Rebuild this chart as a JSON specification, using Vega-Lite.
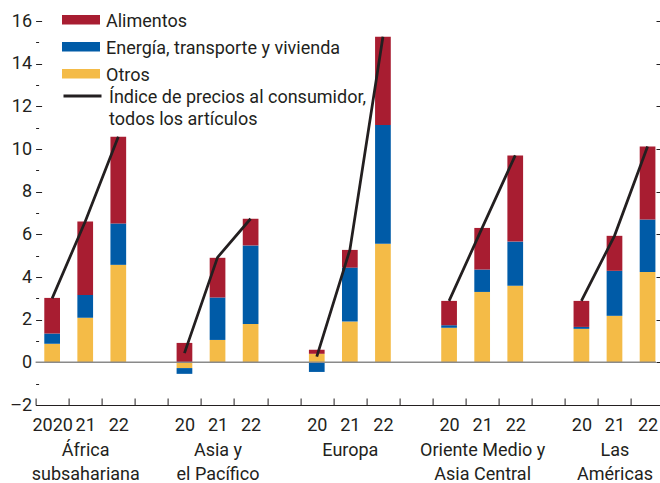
{
  "$schema": "https://vega.github.io/schema/vega-lite/v6.json",
  "width": 620.4,
  "height": 384,
  "autosize": {"type": "none"},
  "padding": {"left": 35.6, "top": 21, "right": 4, "bottom": 78},
  "background": "white",
  "config": {
    "font": "Roboto",
    "view": {"stroke": null},
    "axis": {"grid": false, "labelFont": "Roboto", "labelFontSize": 18, "labelColor": "#231f20", "tickColor": "#231f20", "domainColor": "#231f20"},
    "legend": {"labelFont": "Roboto"}
  },
  "datasets": {
    "barras": [
      {"grupo": "AF20", "serie": "Otros", "orden": 1, "valor": 0.87},
      {"grupo": "AF20", "serie": "Energía, transporte y vivienda", "orden": 2, "valor": 0.48},
      {"grupo": "AF20", "serie": "Alimentos", "orden": 3, "valor": 1.67},
      {"grupo": "AF21", "serie": "Otros", "orden": 1, "valor": 2.09},
      {"grupo": "AF21", "serie": "Energía, transporte y vivienda", "orden": 2, "valor": 1.07},
      {"grupo": "AF21", "serie": "Alimentos", "orden": 3, "valor": 3.44},
      {"grupo": "AF22", "serie": "Otros", "orden": 1, "valor": 4.57},
      {"grupo": "AF22", "serie": "Energía, transporte y vivienda", "orden": 2, "valor": 1.94},
      {"grupo": "AF22", "serie": "Alimentos", "orden": 3, "valor": 4.07},
      {"grupo": "AS20", "serie": "Otros", "orden": 1, "valor": -0.27},
      {"grupo": "AS20", "serie": "Energía, transporte y vivienda", "orden": 2, "valor": -0.27},
      {"grupo": "AS20", "serie": "Alimentos", "orden": 3, "valor": 0.91},
      {"grupo": "AS21", "serie": "Otros", "orden": 1, "valor": 1.05},
      {"grupo": "AS21", "serie": "Energía, transporte y vivienda", "orden": 2, "valor": 1.99},
      {"grupo": "AS21", "serie": "Alimentos", "orden": 3, "valor": 1.86},
      {"grupo": "AS22", "serie": "Otros", "orden": 1, "valor": 1.8},
      {"grupo": "AS22", "serie": "Energía, transporte y vivienda", "orden": 2, "valor": 3.68},
      {"grupo": "AS22", "serie": "Alimentos", "orden": 3, "valor": 1.25},
      {"grupo": "EU20", "serie": "Otros", "orden": 1, "valor": 0.4},
      {"grupo": "EU20", "serie": "Energía, transporte y vivienda", "orden": 2, "valor": -0.45},
      {"grupo": "EU20", "serie": "Alimentos", "orden": 3, "valor": 0.19},
      {"grupo": "EU21", "serie": "Otros", "orden": 1, "valor": 1.91},
      {"grupo": "EU21", "serie": "Energía, transporte y vivienda", "orden": 2, "valor": 2.53},
      {"grupo": "EU21", "serie": "Alimentos", "orden": 3, "valor": 0.83},
      {"grupo": "EU22", "serie": "Otros", "orden": 1, "valor": 5.56},
      {"grupo": "EU22", "serie": "Energía, transporte y vivienda", "orden": 2, "valor": 5.57},
      {"grupo": "EU22", "serie": "Alimentos", "orden": 3, "valor": 4.13},
      {"grupo": "ME20", "serie": "Otros", "orden": 1, "valor": 1.62},
      {"grupo": "ME20", "serie": "Energía, transporte y vivienda", "orden": 2, "valor": 0.12},
      {"grupo": "ME20", "serie": "Alimentos", "orden": 3, "valor": 1.14},
      {"grupo": "ME21", "serie": "Otros", "orden": 1, "valor": 3.3},
      {"grupo": "ME21", "serie": "Energía, transporte y vivienda", "orden": 2, "valor": 1.05},
      {"grupo": "ME21", "serie": "Alimentos", "orden": 3, "valor": 1.95},
      {"grupo": "ME22", "serie": "Otros", "orden": 1, "valor": 3.59},
      {"grupo": "ME22", "serie": "Energía, transporte y vivienda", "orden": 2, "valor": 2.07},
      {"grupo": "ME22", "serie": "Alimentos", "orden": 3, "valor": 4.04},
      {"grupo": "AM20", "serie": "Otros", "orden": 1, "valor": 1.57},
      {"grupo": "AM20", "serie": "Energía, transporte y vivienda", "orden": 2, "valor": 0.09},
      {"grupo": "AM20", "serie": "Alimentos", "orden": 3, "valor": 1.22},
      {"grupo": "AM21", "serie": "Otros", "orden": 1, "valor": 2.18},
      {"grupo": "AM21", "serie": "Energía, transporte y vivienda", "orden": 2, "valor": 2.11},
      {"grupo": "AM21", "serie": "Alimentos", "orden": 3, "valor": 1.64},
      {"grupo": "AM22", "serie": "Otros", "orden": 1, "valor": 4.24},
      {"grupo": "AM22", "serie": "Energía, transporte y vivienda", "orden": 2, "valor": 2.45},
      {"grupo": "AM22", "serie": "Alimentos", "orden": 3, "valor": 3.43}
    ],
    "ipc": [
      {"region": "África subsahariana", "grupo": "AF20", "ipc": 3.0},
      {"region": "África subsahariana", "grupo": "AF21", "ipc": 6.6},
      {"region": "África subsahariana", "grupo": "AF22", "ipc": 10.58},
      {"region": "Asia y el Pacífico", "grupo": "AS20", "ipc": 0.43},
      {"region": "Asia y el Pacífico", "grupo": "AS21", "ipc": 4.92},
      {"region": "Asia y el Pacífico", "grupo": "AS22", "ipc": 6.73},
      {"region": "Europa", "grupo": "EU20", "ipc": 0.27},
      {"region": "Europa", "grupo": "EU21", "ipc": 5.27},
      {"region": "Europa", "grupo": "EU22", "ipc": 15.26},
      {"region": "Oriente Medio y Asia Central", "grupo": "ME20", "ipc": 2.88},
      {"region": "Oriente Medio y Asia Central", "grupo": "ME21", "ipc": 6.3},
      {"region": "Oriente Medio y Asia Central", "grupo": "ME22", "ipc": 9.7},
      {"region": "Las Américas", "grupo": "AM20", "ipc": 2.88},
      {"region": "Las Américas", "grupo": "AM21", "ipc": 5.93},
      {"region": "Las Américas", "grupo": "AM22", "ipc": 10.12}
    ]
  },
  "layer": [
    {
      "data": {"name": "barras"},
      "mark": {"type": "bar", "width": {"band": 0.475}},
      "encoding": {
        "x": {
          "field": "grupo", "type": "nominal",
          "scale": {"domain": ["AF20","AF21","AF22","g1","AS20","AS21","AS22","g2","EU20","EU21","EU22","g3","ME20","ME21","ME22","g4","AM20","AM21","AM22"], "paddingInner": 0, "paddingOuter": 0, "range": [0, 628.5]},
          "axis": {
            "title": null, "labelAngle": 0, "tickBand": "extent", "tickSize": -7, "labelPadding": 18.5,
            "labelBaseline": "top", "labelLineHeight": 24.5,
            "labelExpr": "{'AF20':'2020','AF21':['21','África','subsahariana'],'AF22':'22','AS20':'20','AS21':['21','Asia y','el Pacífico'],'AS22':'22','EU20':'20','EU21':['21','Europa'],'EU22':'22','ME20':'20','ME21':['21','Oriente Medio y','Asia Central'],'ME22':'22','AM20':'20','AM21':['21','Las','Américas'],'AM22':'22'}[datum.value] || ''"
          }
        },
        "y": {
          "field": "valor", "type": "quantitative",
          "scale": {"domain": [-2, 16], "nice": false, "zero": false},
          "axis": {
            "title": null, "domain": false, "values": [-2,-1,0,1,2,3,4,5,6,7,8,9,10,11,12,13,14,15,16],
            "labelExpr": "datum.value % 2 === 0 ? (datum.value < 0 ? '–' + abs(datum.value) : '' + datum.value) : ''",
            "tickSize": {"condition": {"test": "datum.value % 2 !== 0", "value": -3}, "value": -6},
            "labelPadding": 10
          }
        },
        "fill": {
          "field": "serie", "type": "nominal",
          "scale": {"domain": ["Alimentos", "Energía, transporte y vivienda", "Otros"], "range": ["#a81d31", "#005ba7", "#f4bb47"]},
          "legend": {
            "orient": "none", "legendX": 35.9, "legendY": -10.8, "title": null,
            "symbolType": "M-2,-0.5H2V0.5H-2Z", "symbolSize": 361, "symbolStrokeWidth": 0,
            "labelFontSize": 18, "labelColor": "#231f20", "labelOffset": 15.5, "rowPadding": 6, "labelLimit": 400,
            "encode": {"labels": {"update": {"dy": {"value": 2}}}}
          }
        },
        "order": {"field": "orden", "type": "quantitative"}
      }
    },
    {
      "data": {"values": [{"nivel": 0}]},
      "mark": {"type": "rule", "color": "#8a8a8a", "strokeWidth": 1.5},
      "encoding": {
        "y": {
          "field": "nivel", "type": "quantitative",
          "axis": {"orient": "right", "title": null, "values": [-2,0,2,4,6,8,10,12,14,16], "labels": false, "domain": false, "tickSize": 4}
        }
      }
    },
    {
      "data": {"name": "ipc"},
      "mark": {"type": "line", "strokeWidth": 2.75},
      "encoding": {
        "x": {"field": "grupo", "type": "nominal"},
        "y": {"field": "ipc", "type": "quantitative", "axis": null},
        "detail": {"field": "region"},
        "stroke": {
          "datum": "Índice de precios al consumidor, todos los artículos",
          "scale": {"domain": ["Índice de precios al consumidor, todos los artículos"], "range": ["#231f20"]},
          "legend": {
            "orient": "none", "legendX": 26.4, "legendY": 54.5, "title": null,
            "symbolType": "stroke", "symbolSize": 1444, "symbolStrokeWidth": 3,
            "labelFontSize": 18, "labelColor": "#231f20", "labelOffset": 6, "labelLimit": 400,
            "labelExpr": "['Índice de precios al consumidor,', 'todos los artículos']",
            "encode": {"labels": {"update": {"lineHeight": {"value": 22}, "dy": {"value": 2}}}}
          }
        }
      }
    }
  ],
  "resolve": {"axis": {"y": "independent"}}
}
